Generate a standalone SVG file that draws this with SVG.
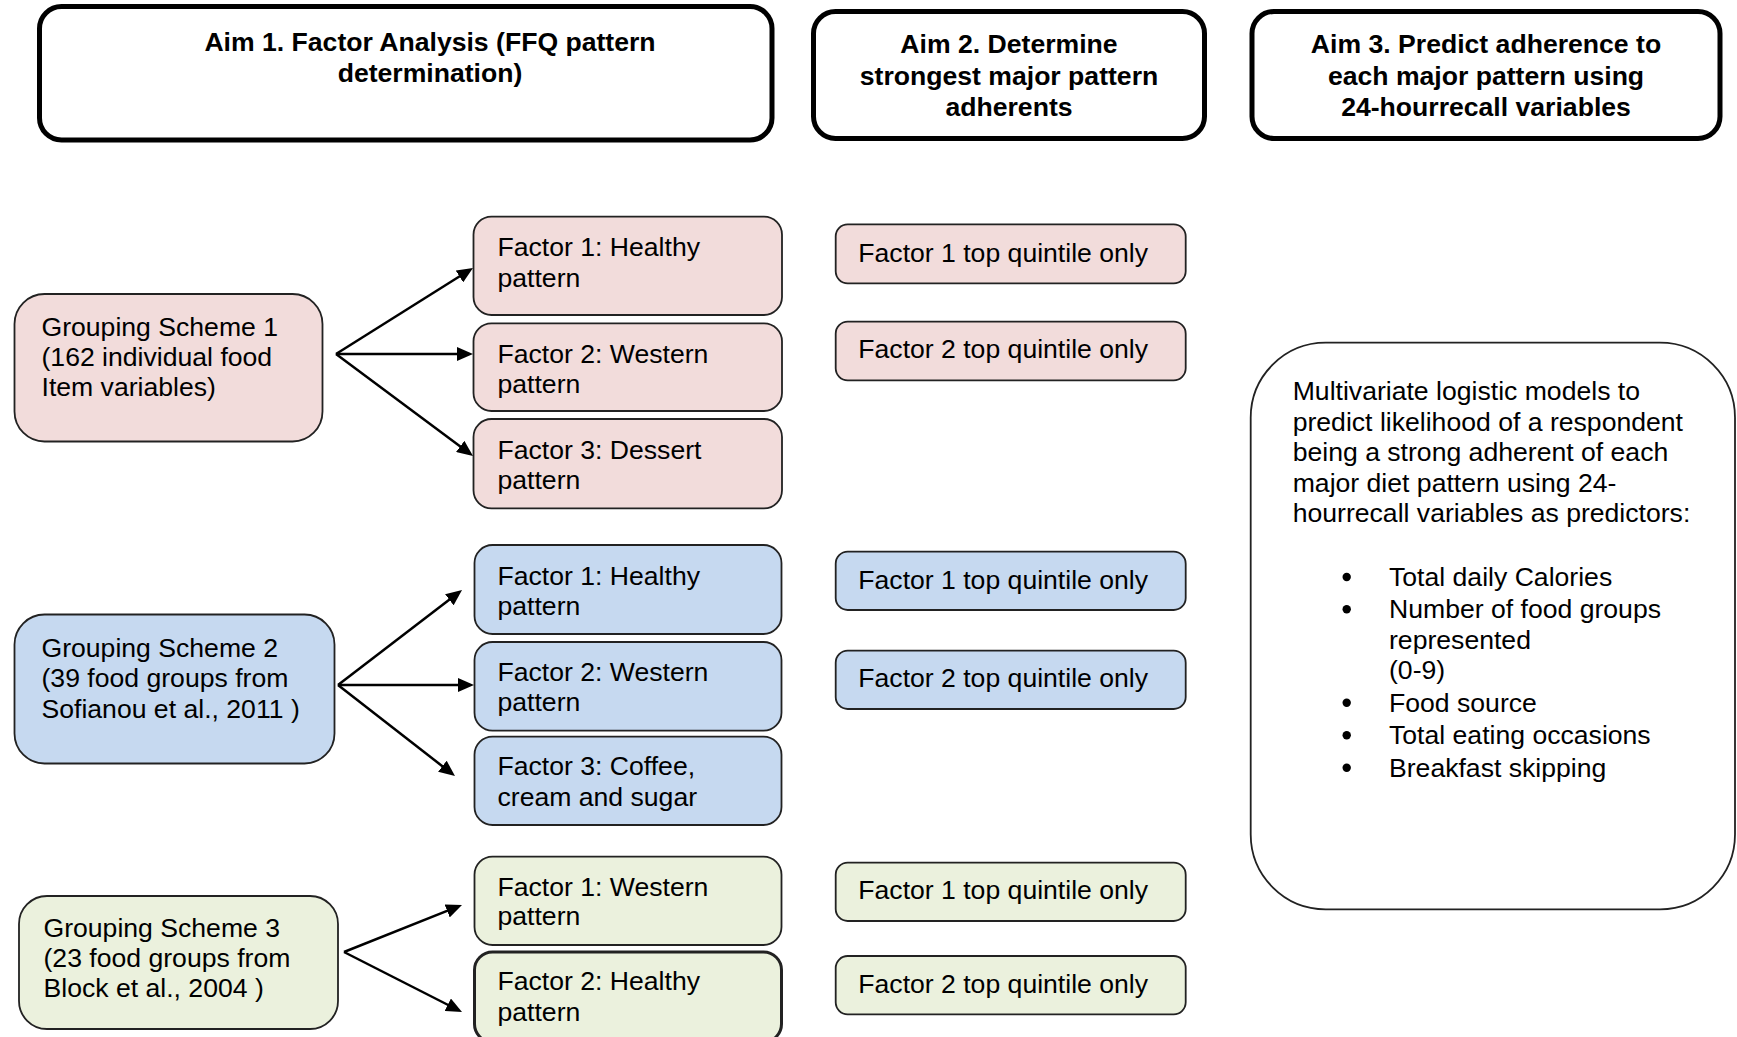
<svg xmlns="http://www.w3.org/2000/svg" width="1737" height="1037" viewBox="0 0 1737 1037">
<style>
text{font-family:"Liberation Sans",Arial,sans-serif;font-size:26.6px;fill:#000}
.b{font-weight:bold;text-anchor:middle}
.aim{fill:#fff;stroke:#000;stroke-width:5}
.pink{fill:#f2dcdb;stroke:#222;stroke-width:1.8}
.blue{fill:#c6d9f0;stroke:#222;stroke-width:1.8}
.green{fill:#ebf1dd;stroke:#222;stroke-width:1.8}
.big{fill:#fff;stroke:#222;stroke-width:1.8}
.conn line{stroke:#000;stroke-width:2.5;marker-end:url(#ah)}
</style>
<defs>
<marker id="ah" markerUnits="userSpaceOnUse" markerWidth="16" markerHeight="14" refX="6" refY="7" orient="auto">
<path d="M0,0 L16,7 L0,14 z" fill="#000"/>
</marker>
</defs>
<rect width="1737" height="1037" fill="#fff"/>

<g id="aim1"><rect class="aim" x="39.5" y="6.5" width="732.5" height="133.5" rx="22"/>
<text class="b" x="430" y="51">Aim 1. Factor Analysis (FFQ pattern</text>
<text class="b" x="430" y="82">determination)</text></g>
<g id="aim2"><rect class="aim" x="813.5" y="11.5" width="391" height="127" rx="22"/>
<text class="b" x="1009" y="53">Aim 2. Determine</text>
<text class="b" x="1009" y="84.5">strongest major pattern</text>
<text class="b" x="1009" y="115.5">adherents</text></g>
<g id="aim3"><rect class="aim" x="1252" y="11.5" width="468" height="127" rx="22"/>
<text class="b" x="1486" y="53">Aim 3. Predict adherence to</text>
<text class="b" x="1486" y="84.5">each major pattern using</text>
<text class="b" x="1486" y="115.5">24-hourrecall variables</text></g>

<g id="scheme1"><rect class="pink" x="14.5" y="294" width="308" height="147.5" rx="30"/>
<text x="41.5" y="336">Grouping Scheme 1</text>
<text x="41.5" y="366">(162 individual food</text>
<text x="41.5" y="396">Item variables)</text></g>
<g id="s1f1"><rect class="pink" x="473.5" y="216.7" width="308.5" height="98.3" rx="18"/>
<text x="497.5" y="256">Factor 1: Healthy</text><text x="497.5" y="287.3">pattern</text></g>
<g id="s1f2"><rect class="pink" x="473.5" y="323.3" width="308.5" height="87.7" rx="18"/>
<text x="497.5" y="362.5">Factor 2: Western</text><text x="497.5" y="393.3">pattern</text></g>
<g id="s1f3"><rect class="pink" x="473.5" y="419" width="308.5" height="89.3" rx="18"/>
<text x="497.5" y="459">Factor 3: Dessert</text><text x="497.5" y="489">pattern</text></g>
<g id="s1q1"><rect class="pink" x="835.7" y="224.3" width="350" height="59" rx="12"/>
<text x="858.3" y="262">Factor 1 top quintile only</text></g>
<g id="s1q2"><rect class="pink" x="835.7" y="321.7" width="350" height="58.6" rx="12"/>
<text x="858.3" y="357.7">Factor 2 top quintile only</text></g>

<g id="scheme2"><rect class="blue" x="14.5" y="614.5" width="320" height="149" rx="30"/>
<text x="41.5" y="656.5">Grouping Scheme 2</text>
<text x="41.5" y="687">(39 food groups from</text>
<text x="41.5" y="717.5">Sofianou et al., 2011 )</text></g>
<g id="s2f1"><rect class="blue" x="474.5" y="545" width="307" height="89" rx="18"/>
<text x="497.5" y="584.5">Factor 1: Healthy</text><text x="497.5" y="614.5">pattern</text></g>
<g id="s2f2"><rect class="blue" x="474.5" y="642" width="307" height="88.7" rx="18"/>
<text x="497.5" y="680.5">Factor 2: Western</text><text x="497.5" y="711.2">pattern</text></g>
<g id="s2f3"><rect class="blue" x="474.5" y="736.7" width="307" height="88.3" rx="18"/>
<text x="497.5" y="775">Factor 3: Coffee,</text><text x="497.5" y="805.5">cream and sugar</text></g>
<g id="s2q1"><rect class="blue" x="835.7" y="551.7" width="350" height="58.3" rx="12"/>
<text x="858.3" y="589.3">Factor 1 top quintile only</text></g>
<g id="s2q2"><rect class="blue" x="835.7" y="650.7" width="350" height="58.3" rx="12"/>
<text x="858.3" y="686.7">Factor 2 top quintile only</text></g>

<g id="scheme3"><rect class="green" x="19" y="896" width="319" height="133" rx="28"/>
<text x="43.5" y="937.3">Grouping Scheme 3</text>
<text x="43.5" y="967.3">(23 food groups from</text>
<text x="43.5" y="997.3">Block et al., 2004 )</text></g>
<g id="s3f1"><rect class="green" x="474.5" y="856.7" width="307" height="88.3" rx="18"/>
<text x="497.5" y="895.5">Factor 1: Western</text><text x="497.5" y="925">pattern</text></g>
<g id="s3f2"><rect class="green" x="474.5" y="952" width="307" height="90" rx="18" style="stroke-width:3"/>
<text x="497.5" y="990">Factor 2: Healthy</text><text x="497.5" y="1021">pattern</text></g>
<g id="s3q1"><rect class="green" x="835.7" y="862.7" width="350" height="58.3" rx="12"/>
<text x="858.3" y="899.3">Factor 1 top quintile only</text></g>
<g id="s3q2"><rect class="green" x="835.7" y="956" width="350" height="58.3" rx="12"/>
<text x="858.3" y="993.3">Factor 2 top quintile only</text></g>

<g id="aim3model"><rect class="big" x="1250.7" y="342.7" width="484.3" height="566.6" rx="75"/>
<text x="1292.7" y="400">Multivariate logistic models to</text>
<text x="1292.7" y="430.5">predict likelihood of a respondent</text>
<text x="1292.7" y="461">being a strong adherent of each</text>
<text x="1292.7" y="491.5">major diet pattern using 24-</text>
<text x="1292.7" y="522">hourrecall variables as predictors:</text>
<g fill="#000"><circle cx="1346.7" cy="577" r="4.2"/><circle cx="1346.7" cy="609.3" r="4.2"/><circle cx="1346.7" cy="702.7" r="4.2"/><circle cx="1346.7" cy="735.3" r="4.2"/><circle cx="1346.7" cy="767.7" r="4.2"/></g>
<text x="1389" y="586">Total daily Calories</text>
<text x="1389" y="618.3">Number of food groups</text>
<text x="1389" y="649.3">represented</text>
<text x="1389" y="679.3">(0-9)</text>
<text x="1389" y="711.7">Food source</text>
<text x="1389" y="744.3">Total eating occasions</text>
<text x="1389" y="776.7">Breakfast skipping</text></g>

<g id="connectors" class="conn">
<line x1="336" y1="354" x2="464.5" y2="273.3"/>
<line x1="336" y1="354" x2="463" y2="354"/>
<line x1="336" y1="354" x2="465" y2="450"/>
<line x1="338" y1="685" x2="454.1" y2="596.1"/>
<line x1="338" y1="685" x2="464" y2="685"/>
<line x1="338" y1="685" x2="447.1" y2="769.9"/>
<line x1="344" y1="952" x2="452.7" y2="908.7"/>
<line x1="344" y1="952" x2="453.1" y2="1007.5"/>
</g>
</svg>
